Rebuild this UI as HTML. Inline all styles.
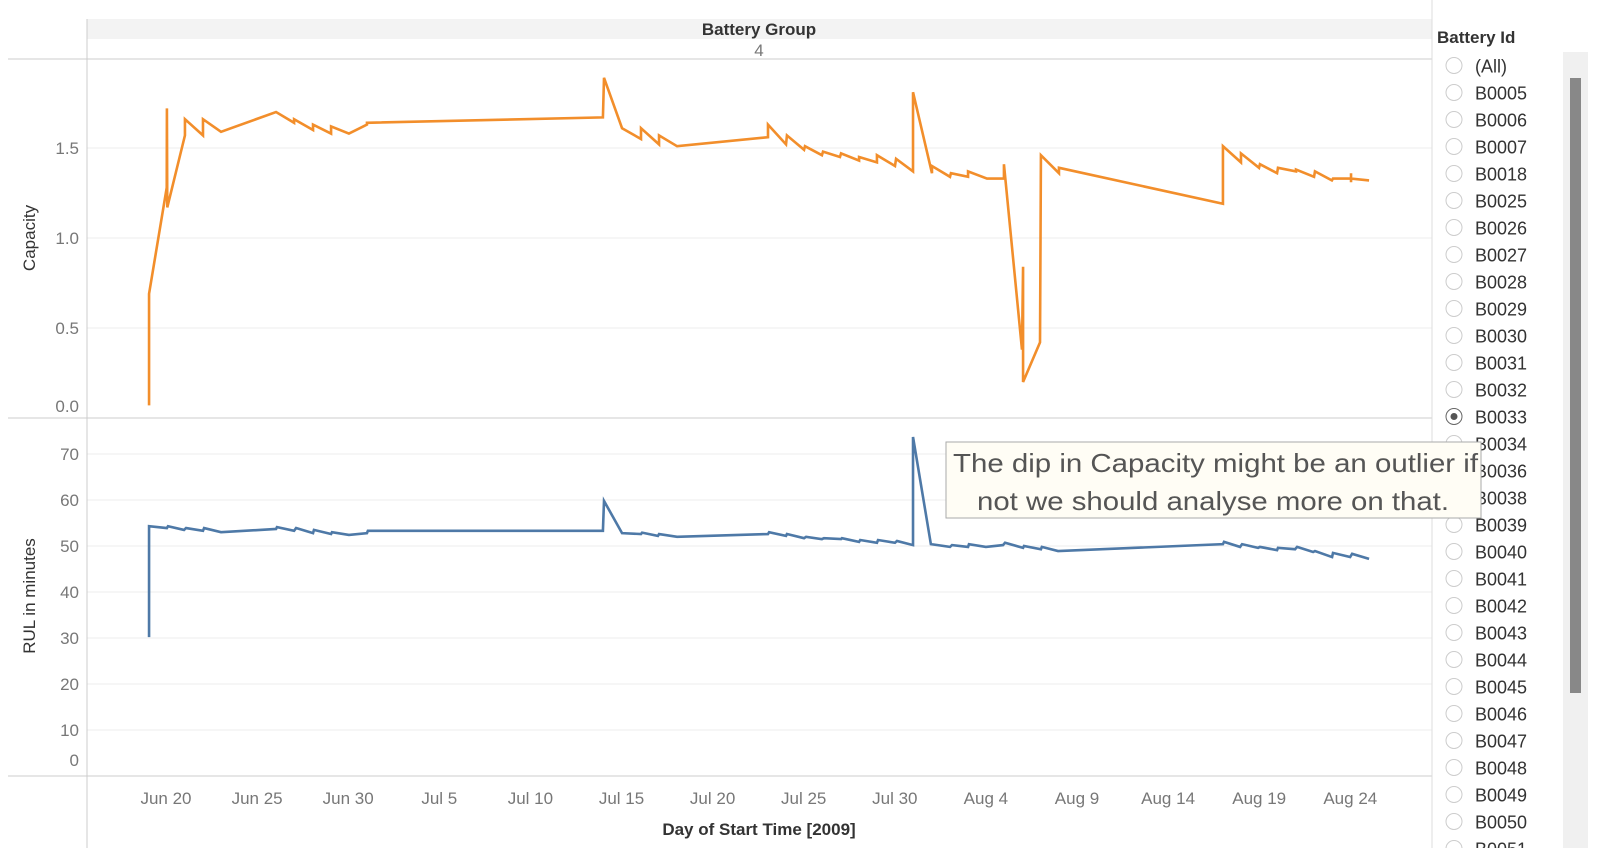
<!DOCTYPE html>
<html><head><meta charset="utf-8"><style>
body{margin:0;background:#fff;}
svg{display:block;font-family:"Liberation Sans",sans-serif;}
</style></head><body>
<svg id="c" width="1602" height="862" viewBox="0 0 1602 862">
<rect x="87" y="19" width="1345" height="20" fill="#f3f3f3"/>
<text x="759" y="35" text-anchor="middle" font-size="17" font-weight="bold" fill="#333">Battery Group</text>
<text x="759" y="56" text-anchor="middle" font-size="17" fill="#777">4</text>
<g id="grid"></g>
<line x1="8" y1="59" x2="1432" y2="59" stroke="#ccc"/>
<line x1="8" y1="418" x2="1432" y2="418" stroke="#ccc"/>
<line x1="8" y1="776" x2="1432" y2="776" stroke="#ccc"/>
<line x1="87" y1="19" x2="87" y2="848" stroke="#ccc"/>
<line x1="1432" y1="0" x2="1432" y2="848" stroke="#ddd"/>
<text transform="translate(35,238) rotate(-90)" text-anchor="middle" font-size="17" fill="#333">Capacity</text>
<text transform="translate(35,596) rotate(-90)" text-anchor="middle" font-size="17" fill="#333">RUL in minutes</text>
<text x="759" y="835" text-anchor="middle" font-size="17" font-weight="bold" fill="#333">Day of Start Time [2009]</text>
<g id="ticks"></g>
<g id="lines"></g>
<text x="1437" y="43" font-size="17" font-weight="bold" fill="#333">Battery Id</text>
<rect x="1563" y="52" width="25" height="796" fill="#f0f0f0"/>
<rect x="1570" y="78" width="11" height="615" fill="#888"/>
<g id="legend"></g>
<g>
<rect x="946" y="442" width="535" height="76" fill="#fffdf5" stroke="#aaa"/>
<text x="953" y="472" font-size="26" fill="#555" textLength="525" lengthAdjust="spacingAndGlyphs">The dip in Capacity might be an outlier if</text>
<text x="977" y="510" font-size="26" fill="#555" textLength="472" lengthAdjust="spacingAndGlyphs">not we should analyse more on that.</text>
</g>
</svg>
<script>
const capDays=[-0.93,-0.93,0.04,0.05,0.07,1.04,1.04,2.03,2.03,3.02,6.04,7.03,7.03,8.07,8.07,9.06,9.06,10.04,11.03,11.03,23.98,24.04,25.03,26.07,26.07,27.06,27.06,28.05,33.04,33.04,34.03,34.08,35.02,35.07,36.0,36.06,36.99,37.05,38.04,38.04,39.02,39.02,40.01,40.07,41.0,41.0,42.04,42.04,43.03,43.08,44.02,44.02,45.06,45.99,45.99,46.98,47.04,47.04,47.97,48.02,49.01,49.01,58.01,58.01,59.0,59.0,59.99,60.04,60.98,61.03,62.02,62.02,63.01,63.06,63.99,64.05,65.04,65.04,65.04,65.04,66.03];
const capValues=[0.07,0.69,1.28,1.72,1.17,1.57,1.66,1.57,1.66,1.59,1.70,1.64,1.66,1.60,1.63,1.58,1.62,1.58,1.63,1.64,1.67,1.89,1.61,1.55,1.61,1.52,1.57,1.51,1.56,1.63,1.52,1.57,1.49,1.51,1.46,1.48,1.45,1.47,1.43,1.45,1.42,1.46,1.40,1.44,1.37,1.81,1.36,1.40,1.34,1.36,1.34,1.37,1.33,1.33,1.41,0.38,0.84,0.20,0.42,1.46,1.36,1.39,1.19,1.51,1.42,1.47,1.39,1.41,1.36,1.39,1.37,1.38,1.34,1.37,1.32,1.33,1.33,1.36,1.31,1.33,1.32];
const rulDays=[-0.93,-0.93,0.05,0.11,0.99,1.1,2.03,2.09,3.02,6.04,6.09,7.03,7.14,8.07,8.12,9.06,9.11,10.04,11.03,11.08,23.98,24.04,25.03,26.07,26.13,27.0,27.06,28.05,33.04,33.1,34.03,34.08,35.02,35.13,36.0,36.11,37.05,37.1,38.04,38.1,39.02,39.08,40.01,40.12,41.0,41.0,41.98,43.03,43.14,44.02,44.07,45.0,45.94,46.05,47.04,47.09,48.02,48.07,48.96,58.01,58.07,58.95,59.06,59.94,60.04,60.98,61.03,61.97,62.08,62.96,63.06,64.0,64.05,64.99,65.1,66.03];
const rulValues=[30.2,54.3,53.9,54.3,53.5,53.9,53.3,53.9,53.0,53.7,54.1,53.3,53.9,52.8,53.5,52.6,53.0,52.4,52.8,53.3,53.3,59.8,52.8,52.6,52.9,52.2,52.6,52.0,52.6,53.0,52.2,52.6,51.7,52.0,51.5,51.7,51.5,51.7,50.9,51.3,50.7,51.3,50.7,51.1,50.2,73.7,50.4,49.8,50.2,49.8,50.4,49.8,50.2,50.7,49.6,50.0,49.3,49.8,48.9,50.4,50.9,49.8,50.4,49.6,49.8,49.1,49.6,49.3,49.8,48.7,48.9,47.6,48.5,47.6,48.3,47.2];
const capTicks=[0,0.5,1,1.5];
const capTickLabels=["0.0","0.5","1.0","1.5"];
const rulTicks=[0,10,20,30,40,50,60,70];
const xTickDays=[0,5,10,15,20,25,30,35,40,45,50,55,60,65];
const xTickLabels=["Jun 20","Jun 25","Jun 30","Jul 5","Jul 10","Jul 15","Jul 20","Jul 25","Jul 30","Aug 4","Aug 9","Aug 14","Aug 19","Aug 24"];
const legendItems=["(All)","B0005","B0006","B0007","B0018","B0025","B0026","B0027","B0028","B0029","B0030","B0031","B0032","B0033","B0034","B0036","B0038","B0039","B0040","B0041","B0042","B0043","B0044","B0045","B0046","B0047","B0048","B0049","B0050","B0051"];
const selectedItem="B0033";

const NS="http://www.w3.org/2000/svg";
const xS=d=>166+d*18.22;
const capY=v=>418-v*180;
const rulY=v=>776-v*4.6;
function mk(tag,attrs,parent,txt){const e=document.createElementNS(NS,tag);for(const k in attrs)e.setAttribute(k,attrs[k]);if(txt!==undefined)e.textContent=txt;parent.appendChild(e);return e;}
const grid=document.getElementById('grid'),ticks=document.getElementById('ticks'),lines=document.getElementById('lines'),legend=document.getElementById('legend');
capTicks.forEach((v,i)=>{
  if(v>0){const g=mk('line',{x1:87,x2:1432,y1:capY(v),y2:capY(v),stroke:'#eee'},grid);
  
  }
  const t=mk('text',{x:79,y:(v===0?capY(v)-6:capY(v)+6),'text-anchor':'end','font-size':17,fill:'#777'},ticks,capTickLabels[i]);
  
  
});
rulTicks.forEach(v=>{
  if(v>0){const g=mk('line',{x1:87,x2:1432,y1:rulY(v),y2:rulY(v),stroke:'#eee'},grid);
  
  }
  const t=mk('text',{x:79,y:(v===0?rulY(v)-10:rulY(v)+6),'text-anchor':'end','font-size':17,fill:'#777'},ticks,String(v));
  
  
});
xTickDays.forEach((d,i)=>{
  const t=mk('text',{x:xS(d),y:804,'text-anchor':'middle','font-size':17,fill:'#777'},ticks,xTickLabels[i]);
  
  
});
const cp=mk('polyline',{points:capDays.map((d,i)=>xS(d)+','+capY(capValues[i])).join(' '),fill:'none',stroke:'#F28E2B','stroke-width':2.6,'stroke-linejoin':'miter'},lines);


const rp=mk('polyline',{points:rulDays.map((d,i)=>xS(d)+','+rulY(rulValues[i])).join(' '),fill:'none',stroke:'#4E79A7','stroke-width':2.6},lines);


legendItems.forEach((name,i)=>{
  const y=65.5+i*27.0;
  if(y>860)return;
  const c=mk('circle',{cx:1454,cy:y,r:8,fill:'#fff',stroke:'#ccc','stroke-width':1},legend);
  
  
  if(name===selectedItem){c.setAttribute('stroke','#666');
    const dot=mk('circle',{cx:1454,cy:y,r:3.5,fill:'#555'},legend);
    
    }
  const t=mk('text',{x:1475,y:y+7,'font-size':18,fill:'#333'},legend,name);
  
  
});
const clip=mk('rect',{x:1433,y:848,width:130,height:14,fill:'#fff'},legend);


</script>
</body></html>
